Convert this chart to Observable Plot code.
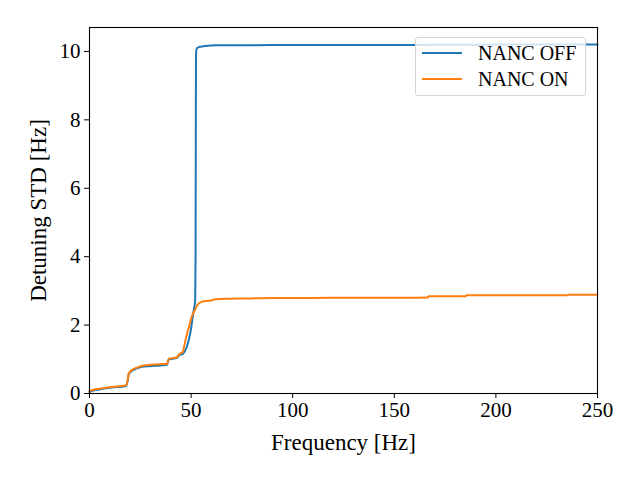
<!DOCTYPE html>
<html>
<head>
<meta charset="utf-8">
<script src="https://cdn.jsdelivr.net/npm/d3@7"></script>
<script src="https://cdn.jsdelivr.net/npm/@observablehq/plot@0.6"></script>
<style>
  html, body { margin: 0; padding: 0; background: #fff; }
  #wrap { position: relative; width: 640px; height: 480px; font-family: "Liberation Serif", "DejaVu Serif", serif; }
  #legend { position: absolute; left: 415px; top: 37px; width: 171px; height: 59px; border: 1px solid #d6d6d6; border-radius: 3px; background: rgba(255,255,255,0.8); box-sizing: border-box; }
  .item { position: absolute; left: 0; height: 26px; display: flex; align-items: center; font-size: 20px; color: #000; }
  .swatch { position: absolute; left: 6px; width: 40px; height: 0; border-top: 2px solid; }
  .lab { position: absolute; left: 62px; white-space: nowrap; }
</style>
</head>
<body>
<div id="wrap"></div>
<script>
const seriesNames = ["NANC OFF", "NANC ON"];
const seriesColors = ["#1f77b4", "#ff7f0e"];

const freqOff = [0, 2, 5, 8, 12, 16, 18, 18.8, 19.3, 20, 21, 23, 26.7, 30, 35, 38.2, 38.6, 39, 43, 43.6, 44, 46, 47, 48, 49, 50, 50.8, 51.5, 52, 52.2, 52.4, 52.6, 53, 54, 56, 58, 62, 80, 100, 150, 200, 250];
const stdOff  = [0.05, 0.09, 0.12, 0.15, 0.18, 0.2, 0.22, 0.38, 0.56, 0.62, 0.67, 0.73, 0.79, 0.8, 0.82, 0.84, 0.93, 0.99, 1.04, 1.08, 1.12, 1.16, 1.25, 1.38, 1.6, 1.9, 2.25, 2.5, 2.7, 4.0, 9.8, 10.05, 10.1, 10.13, 10.15, 10.17, 10.18, 10.18, 10.19, 10.19, 10.2, 10.2];

const freqOn = [0, 2, 5, 8, 12, 16, 18, 18.8, 19.3, 20, 21, 23, 26.7, 30, 35, 38.2, 38.6, 39, 43, 43.6, 44, 45.9, 46.5, 47.2, 48, 48.9, 50.5, 52, 52.9, 54.5, 56.2, 58.5, 60, 61.2, 67, 80, 90, 100, 120, 153, 166.5, 167, 185, 185.5, 235, 235.5, 250];
const stdOn  = [0.07, 0.11, 0.14, 0.17, 0.2, 0.22, 0.24, 0.4, 0.58, 0.64, 0.69, 0.75, 0.82, 0.84, 0.86, 0.87, 0.95, 1.01, 1.06, 1.10, 1.14, 1.21, 1.35, 1.55, 1.75, 1.94, 2.28, 2.45, 2.57, 2.66, 2.70, 2.71, 2.72, 2.75, 2.77, 2.78, 2.79, 2.79, 2.80, 2.80, 2.81, 2.84, 2.84, 2.87, 2.87, 2.89, 2.89];

const xTicks = [0, 50, 100, 150, 200, 250];
const yTicks = [0, 2, 4, 6, 8, 10];
const xLabel = "Frequency [Hz]";
const yLabel = "Detuning STD [Hz]";

const data = [
  ...freqOff.map((f, i) => ({series: seriesNames[0], freq: f, std: stdOff[i]})),
  ...freqOn.map((f, i) => ({series: seriesNames[1], freq: f, std: stdOn[i]}))
];

const font = "Liberation Serif, DejaVu Serif, serif";

const chart = Plot.plot({
  width: 640,
  height: 480,
  marginLeft: 89,
  marginRight: 43,
  marginTop: 27,
  marginBottom: 87,
  style: {fontFamily: font, fontSize: "21px", background: "#fff", color: "#000"},
  x: {domain: [0, 250]},
  y: {domain: [0, 10.7]},
  color: {domain: seriesNames, range: seriesColors},
  marks: [
    Plot.line(data, {x: "freq", y: "std", stroke: "series", strokeWidth: 2, curve: "monotone-x"}),
    Plot.frame({stroke: "#000", strokeWidth: 1.1}),
    Plot.axisX({ticks: xTicks, tickSize: 5, tickPadding: 4, fontSize: 21, label: null}),
    Plot.axisY({ticks: yTicks, tickSize: 5, tickPadding: 4, fontSize: 21, label: null}),
    Plot.axisX({ticks: [], tickSize: 0, fontSize: 23, label: xLabel, labelAnchor: "center", labelArrow: "none", labelOffset: 56}),
    Plot.axisY({ticks: [], tickSize: 0, fontSize: 23, label: yLabel, labelAnchor: "center", labelArrow: "none", labelOffset: 60})
  ]
});

const wrap = document.getElementById("wrap");
wrap.appendChild(chart);

const legend = document.createElement("div");
legend.id = "legend";
seriesNames.forEach((name, i) => {
  const item = document.createElement("div");
  item.className = "item";
  item.style.top = (2 + i * 26) + "px";
  item.style.width = "100%";
  const sw = document.createElement("div");
  sw.className = "swatch";
  sw.style.borderTopColor = seriesColors[i];
  const lab = document.createElement("span");
  lab.className = "lab";
  lab.textContent = name;
  item.appendChild(sw);
  item.appendChild(lab);
  legend.appendChild(item);
});
wrap.appendChild(legend);
</script>
</body>
</html>
